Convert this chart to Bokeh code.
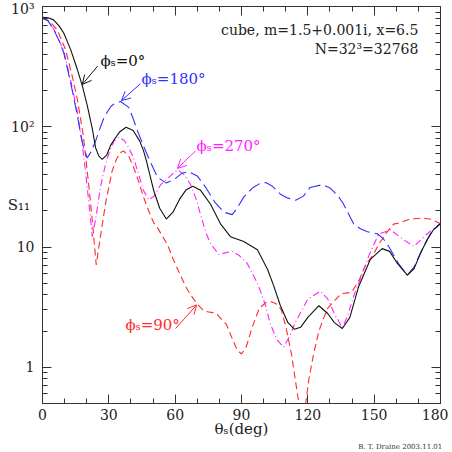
from bokeh.plotting import figure
from bokeh.models import (FixedTicker, LinearAxis, LogAxis, Label, Arrow, OpenHead, Range1d,
                          CustomJSTickFormatter, Title)
from bokeh.embed import file_html
from bokeh.resources import INLINE

# ---------------- data ----------------
theta_phi0 = [0, 2.5, 5, 7.5, 9.6, 12.7, 15.7, 18, 20.2, 22.5, 24, 25.5, 27, 29, 30.8, 33, 35,
              37.8, 41, 44, 45.7, 47, 50.3, 53, 56, 59, 62, 65, 68, 71.5, 76, 80.5, 85, 91, 97.2,
              101.8, 104.5, 107.6, 111, 114, 116.7, 120, 125, 129, 132, 135.6, 139, 143, 148.3,
              153.6, 157, 160.5, 165, 168, 171, 174, 176.8, 180]
s11_phi0 = [815, 805, 774, 690, 602, 440, 302, 220, 151, 97, 67, 57, 53.5, 58, 70, 81, 91,
            99, 93, 76, 63, 52, 29.5, 21, 17.1, 19.5, 25, 30, 32, 29.6, 22.7, 15.6, 12.2, 11.1, 9.5,
            6.5, 4.8, 3.25, 2.35, 2.07, 2.15, 2.6, 3.25, 2.8, 2.35, 2.1, 2.6, 4.7, 7.9,
            9.7, 9.2, 7.3, 5.85, 6.6, 8.9, 11.5, 13.9, 15.6]

theta_phi180 = [0, 2.5, 5.1, 7.5, 9.6, 12.7, 15.7, 17.2, 18.5, 20.2, 22, 24, 26, 28, 31, 33,
                35.3, 39, 41, 43, 45.6, 48, 52, 56, 60, 63, 66, 70, 74, 78, 82, 85.8, 88, 91, 95,
                98, 101, 104, 107.6, 111, 114.5, 118, 121, 126.6, 130, 133.4, 136, 140.7, 143.8,
                147, 151.4, 154, 156.6, 161, 165, 168, 172, 176, 180]
s11_phi180 = [800, 760, 641, 520, 413, 234, 126, 88, 68, 55, 62, 76, 97, 122, 148, 158,
              162, 145, 117, 92, 70, 55, 38, 34, 37, 41, 42.4, 39, 31, 23.5, 19.5, 18.6, 21, 26, 31,
              33.5, 34.4, 32, 27.5, 25.5, 24.5, 26.5, 31.3, 33, 31, 27, 23, 15.6, 14.2,
              13.4, 12.9, 11.8, 10.1, 7.3, 5.85, 6.8, 9.8, 13.5, 15.8]

theta_phi270 = [0, 2.5, 5.1, 9.6, 12.7, 15.7, 18, 19.4, 21, 22.5, 24, 26.2, 28.5, 30.5, 32.3,
                34.4, 37, 39, 41.2, 43.5, 45.7, 48, 50.5, 53.4, 57.9, 61, 64, 67, 69.5, 71.5, 74,
                76, 79.7, 82, 85.8, 89, 92.6, 95, 97.2, 99, 100.9, 103, 106, 109, 112, 114, 116.5,
                120, 125.7, 129, 132, 135.6, 138, 140.5, 143, 147.5, 152, 157.4, 163.3, 168,
                174, 180]
s11_phi270 = [800, 765, 650, 430, 245, 135, 71, 43, 23, 12.2, 16.8, 31.6, 48.6, 64, 76,
              82, 77, 67, 55, 40, 29.5, 24.7, 26.5, 33, 39, 44, 40, 33, 25, 18.5, 13,
              10.7, 8.7, 8.9, 9.2, 8.5, 7.3, 6.0, 5.0, 4.1, 3.25, 2.3, 1.7, 1.47, 1.85, 2.3, 2.8,
              3.7, 4.3, 3.7, 2.8, 2.13, 2.7, 3.8, 5.0, 8.4, 12.8, 13.9, 11.5, 10.1,
              12.9, 15.8]

theta_phi90 = [0, 3, 6.6, 10.4, 13.4, 15.7, 17.2, 18.4, 19.4, 21, 22.5, 24.3, 26.2, 28.5, 31.5,
               33.5, 35.3, 36.7, 39, 41.2, 43.5, 45.7, 48, 50.3, 52, 54, 56.5, 59, 62.4, 65, 67,
               70.3, 72.5, 74.6, 77, 79, 81, 83.2, 86, 88, 90, 92, 95, 98, 101, 103.6, 106, 108,
               110, 112.6, 114.5, 116, 117.6, 119, 120.5, 122.6, 125, 127.1, 129, 131.6, 135.2,
               139.8, 143.4, 146, 149.7, 152, 155.6, 158.8, 161.5, 165, 168, 172, 176, 180]
s11_phi90 = [800, 760, 641, 440, 266, 171, 117, 86, 59, 31.6, 16.8, 7.1, 12.2, 23, 43,
             54, 61, 63, 57, 46, 35, 26, 20, 15.9, 14.5, 12.5, 10.5, 8, 5.8, 4.6, 4.0,
             3.3, 3.0, 2.9, 2.85, 2.75, 2.5, 2.27, 1.7, 1.4, 1.29, 1.45, 2.2, 3.08, 3.45, 3.5, 3.35, 3.0,
             2.2, 1.29, 0.75, 0.5, 0.4, 0.5, 0.8, 1.29, 2.0, 2.55, 3.1, 3.5, 4.1,
             4.2, 5.4, 7.0, 8.7, 10.5, 13.2, 15.5, 15.9, 16.8, 17.2, 17.4, 17.0, 15.6]

x_ticks = [0, 30, 60, 90, 120, 150, 180]
x_minor = [10, 20, 40, 50, 70, 80, 100, 110, 130, 140, 160, 170]
y_ticks = [1, 10, 100, 1000]
y_tick_labels = ["1", "10", "10²", "10³"]
y_minor = [0.5, 0.6, 0.7, 0.8, 0.9, 2, 3, 4, 5, 6, 7, 8, 9,
           20, 30, 40, 50, 60, 70, 80, 90, 200, 300, 400, 500, 600, 700, 800, 900]

FONT = "DejaVu Serif"

p = figure(width=448, height=450, x_range=Range1d(0, 180), y_range=Range1d(0.5, 1000),
           y_axis_type="log", output_backend="svg", toolbar_location=None,
           min_border_left=42, min_border_right=8, min_border_top=6, min_border_bottom=40)
p.background_fill_color = "white"
p.border_fill_color = "white"
p.outline_line_color = "#333333"
p.outline_line_width = 1
p.grid.visible = False

xt = FixedTicker(ticks=x_ticks, minor_ticks=x_minor)
yt = FixedTicker(ticks=y_ticks, minor_ticks=y_minor)
blank = CustomJSTickFormatter(code="return '';")

def style(ax):
    ax.major_tick_in = 9
    ax.major_tick_out = 0
    ax.minor_tick_in = 5
    ax.minor_tick_out = 0
    ax.axis_line_color = "#333333"
    ax.major_tick_line_color = "#333333"
    ax.minor_tick_line_color = "#333333"
    ax.major_label_text_font = FONT
    ax.major_label_text_color = "#222222"
    ax.major_label_text_font_size = "14px"
    ax.axis_label_text_font = FONT
    ax.axis_label_text_font_style = "normal"
    ax.axis_label_text_color = "#222222"

p.xaxis.ticker = xt
p.yaxis.ticker = yt
p.yaxis.major_label_overrides = {t: l for t, l in zip(y_ticks, y_tick_labels)}
style(p.xaxis[0])
style(p.yaxis[0])
p.xaxis.major_label_standoff = 5
p.yaxis.major_label_standoff = 8

p.yaxis.axis_label = "S₁₁"
p.yaxis.axis_label_orientation = "horizontal"
p.yaxis.axis_label_text_font_size = "15px"
p.yaxis.axis_label_standoff = -22

p.xaxis.axis_label = "θₛ(deg)"
p.xaxis.axis_label_text_font_size = "15px"
p.xaxis.axis_label_standoff = -3

top_ax = LinearAxis(ticker=xt, formatter=blank)
style(top_ax)
top_ax.major_label_standoff = 0
p.add_layout(top_ax, "above")
right_ax = LogAxis(ticker=yt, formatter=blank)
style(right_ax)
right_ax.major_label_standoff = 0
p.add_layout(right_ax, "right")

credit = Title(text="B. T. Draine  2003.11.01", align="right", text_font=FONT,
               text_font_size="7px", text_font_style="normal", text_color="#333333",
               standoff=0, offset=-4)
p.add_layout(credit, "below")

# curves
p.line(theta_phi90, s11_phi90, line_color="#ff2a2a", line_width=1.1, line_dash="7 4")
p.line(theta_phi270, s11_phi270, line_color="#ff22ff", line_width=1.1, line_dash="7 3 1 3")
p.line(theta_phi180, s11_phi180, line_color="#3030ff", line_width=1.1, line_dash="13 5")
p.line(theta_phi0, s11_phi0, line_color="#111111", line_width=1.1)

def lab(x, y, text, color, size="15px", align="left", baseline="middle", xo=0, yo=0):
    p.add_layout(Label(x=x, y=y, text=text, text_color=color, text_font=FONT,
                       text_font_size=size, text_align=align, text_baseline=baseline,
                       x_offset=xo, y_offset=yo))

def arr(x0, y0, x1, y1, color):
    p.add_layout(Arrow(end=OpenHead(size=9, line_color=color, line_width=1),
                       x_start=x0, y_start=y0, x_end=x1, y_end=y1,
                       line_color=color, line_width=1))

lab(170, 640, "cube, m=1.5+0.001i, x=6.5", "#222222", size="14px", align="right")
lab(170, 440, "N=32³=32768", "#222222", size="14px", align="right")

lab(26.2, 351, "ϕₛ=0°", "#111111")
arr(24.9, 319, 18.0, 225, "#111111")
lab(44.8, 250, "ϕₛ=180°", "#3030ff")
arr(44.3, 228, 35.7, 165, "#3030ff")
lab(69.7, 69, "ϕₛ=270°", "#ff22ff")
arr(69.2, 63, 61, 45, "#ff22ff")
lab(37.5, 2.23, "ϕₛ=90°", "#ff2a2a")
arr(60.2, 2.1, 69.7, 3.3, "#ff2a2a")

open("out.html", "w").write(file_html(p, INLINE))
